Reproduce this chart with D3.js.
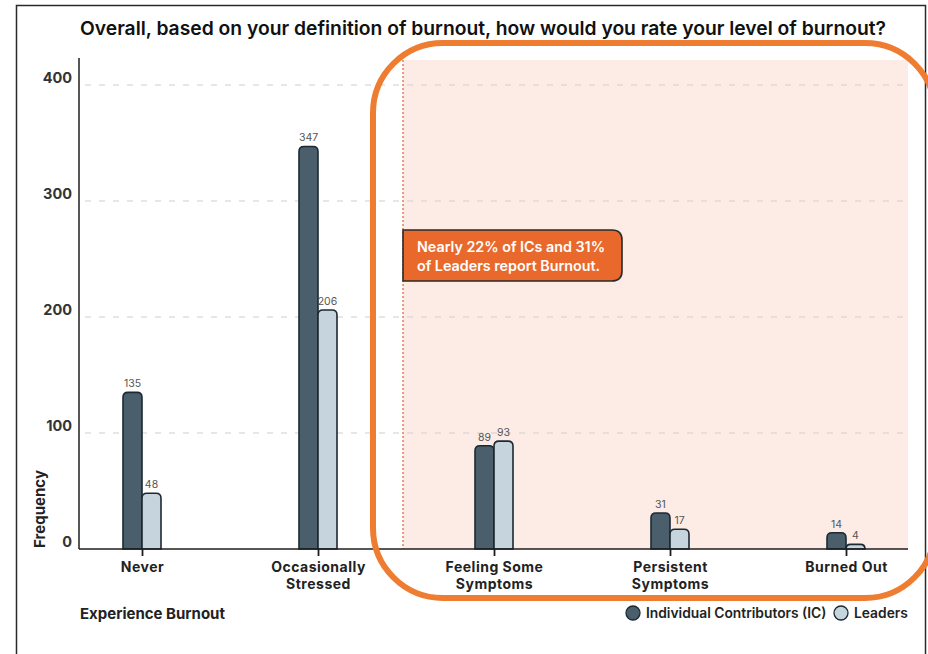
<!DOCTYPE html>
<html>
<head>
<meta charset="utf-8">
<script src="https://cdn.jsdelivr.net/npm/d3@7"></script>
<style>
  html, body { margin: 0; padding: 0; background: #ffffff; }
  svg { display: block; font-family: Inter, "Open Sans", sans-serif; }
</style>
</head>
<body>
<svg id="chart" width="928" height="654"></svg>
<script>
// Survey responses: self-rated burnout level
const title = "Overall, based on your definition of burnout, how would you rate your level of burnout?";
const categories = ["Never", "Occasionally\nStressed", "Feeling Some\nSymptoms", "Persistent\nSymptoms", "Burned Out"];
const icValues = [135, 347, 89, 31, 14];
const leaderValues = [48, 206, 93, 17, 4];
const seriesNames = ["Individual Contributors (IC)", "Leaders"];
const yTicks = [0, 100, 200, 300, 400];
const calloutLines = ["Nearly 22% of ICs and 31%", "of Leaders report Burnout."];
const xTitle = "Experience Burnout";
const yTitle = "Frequency";

const colors = { ic: "#4a5e6c", leader: "#c5d4dd", stroke: "#1c2933", orange: "#ee7d31", callout: "#e9692c" };

const svg = d3.select("#chart");

// outer frame
svg.append("rect")
  .attr("x", 16.5).attr("y", 5.5).attr("width", 909).attr("height", 660)
  .attr("fill", "#fff").attr("stroke", "#2a2a2a").attr("stroke-width", 1.5);

const baseY = 549, topY = 85;
const y = d3.scaleLinear().domain([0, 400]).range([baseY, topY]);
const x = d3.scalePoint().domain(categories).range([142, 846]);
const bw = 19;

// highlighted region (burnout categories)
const hx0 = 403, hx1 = 908;
svg.append("rect")
  .attr("x", hx0).attr("y", 60).attr("width", hx1 - hx0).attr("height", baseY - 60)
  .attr("fill", "#fdece6");

// gridlines
svg.append("g").selectAll("line").data(yTicks.filter(d => d > 0)).join("line")
  .attr("x1", 85).attr("x2", 910)
  .attr("y1", d => y(d)).attr("y2", d => y(d))
  .attr("stroke", "#cfcfcf").attr("stroke-width", 1).attr("stroke-dasharray", "6,8");

// dotted divider
svg.append("line")
  .attr("x1", hx0).attr("x2", hx0).attr("y1", 60).attr("y2", baseY)
  .attr("stroke", "#e0835a").attr("stroke-width", 1.5).attr("stroke-dasharray", "2,2");

// title
svg.append("text")
  .attr("x", 483).attr("y", 35).attr("text-anchor", "middle")
  .attr("font-size", 19.3).attr("font-weight", 600).attr("fill", "#111")
  .text(title);

// bars with rounded tops
function topRounded(x0, y0, w, h, r) {
  r = Math.min(r, h, w / 2);
  return `M${x0},${y0 + h}V${y0 + r}Q${x0},${y0} ${x0 + r},${y0}H${x0 + w - r}Q${x0 + w},${y0} ${x0 + w},${y0 + r}V${y0 + h}Z`;
}

const rows = categories.map((c, i) => ({ c, ic: icValues[i], leader: leaderValues[i] }));
const bars = svg.append("g");
rows.forEach(d => {
  const specs = [
    { v: d.ic, x0: x(d.c) - bw, fill: colors.ic },
    { v: d.leader, x0: x(d.c), fill: colors.leader }
  ];
  specs.forEach(s => {
    bars.append("path")
      .attr("d", topRounded(s.x0, y(s.v), bw, baseY - y(s.v), 5))
      .attr("fill", s.fill).attr("stroke", colors.stroke).attr("stroke-width", 1.6);
    bars.append("text")
      .attr("x", s.x0 + bw / 2).attr("y", y(s.v) - 5)
      .attr("text-anchor", "middle").attr("font-size", 10.5).attr("fill", "#555")
      .text(s.v);
  });
});

// y axis
svg.append("line").attr("x1", 79).attr("x2", 79).attr("y1", 58).attr("y2", baseY)
  .attr("stroke", "#1e1e1e").attr("stroke-width", 1.5);
const yAxis = svg.append("g").attr("transform", "translate(79,-7)")
  .call(d3.axisLeft(y).tickValues(yTicks).tickSize(0).tickPadding(7));
yAxis.select(".domain").remove();
yAxis.selectAll("text").attr("font-size", 14.5).attr("font-weight", 700).attr("fill", "#333")
  .attr("font-family", "Inter, sans-serif");

// x axis
svg.append("line").attr("x1", 79).attr("x2", 908).attr("y1", baseY).attr("y2", baseY)
  .attr("stroke", "#1e1e1e").attr("stroke-width", 1.5);
const xAxis = svg.append("g").attr("transform", `translate(0,${baseY})`)
  .call(d3.axisBottom(x).tickSize(7).tickFormat(""));
xAxis.select(".domain").remove();
xAxis.selectAll(".tick line").attr("stroke", "#1e1e1e").attr("stroke-width", 1.8);
xAxis.selectAll(".tick").each(function (c) {
  const t = d3.select(this).append("text")
    .attr("text-anchor", "middle").attr("font-size", 14).attr("font-weight", 700)
    .attr("letter-spacing", 0.5)
    .attr("fill", "#222").attr("font-family", "Inter, sans-serif");
  c.split("\n").forEach((line, i) => {
    t.append("tspan").attr("x", 0).attr("y", 23 + i * 16.5).text(line);
  });
});

// axis titles
svg.append("text").attr("x", 80).attr("y", 619)
  .attr("font-size", 15).attr("font-weight", 700).attr("fill", "#222").text(xTitle);
svg.append("text").attr("transform", "translate(45,509) rotate(-90)")
  .attr("text-anchor", "middle")
  .attr("font-size", 15).attr("font-weight", 700).attr("fill", "#222").text(yTitle);

// legend
const legend = [
  { name: seriesNames[0], fill: colors.ic, cx: 633 },
  { name: seriesNames[1], fill: colors.leader, cx: 841 }
];
legend.forEach(l => {
  svg.append("circle").attr("cx", l.cx).attr("cy", 613).attr("r", 7)
    .attr("fill", l.fill).attr("stroke", colors.stroke).attr("stroke-width", 1.3);
  svg.append("text").attr("x", l.cx + 13).attr("y", 618)
    .attr("font-size", 13.8).attr("font-weight", 600).attr("fill", "#222").text(l.name);
});

// callout box
const bx = hx0, by = 230, bwid = 219, bh = 51, br = 10;
svg.append("path")
  .attr("d", `M${bx},${by}H${bx + bwid - br}Q${bx + bwid},${by} ${bx + bwid},${by + br}V${by + bh - br}Q${bx + bwid},${by + bh} ${bx + bwid - br},${by + bh}H${bx}Z`)
  .attr("fill", colors.callout).attr("stroke", "#2a2a2a").attr("stroke-width", 1.6);
calloutLines.forEach((line, i) => {
  svg.append("text").attr("x", 417).attr("y", 252 + i * 19)
    .attr("font-size", 14.3).attr("font-weight", 600).attr("fill", "#fff").text(line);
});

// emphasis outline around the burnout categories
svg.append("rect")
  .attr("x", 373).attr("y", 43).attr("width", 562).attr("height", 555).attr("rx", 70)
  .attr("fill", "none").attr("stroke", colors.orange).attr("stroke-width", 6);
</script>
</body>
</html>
